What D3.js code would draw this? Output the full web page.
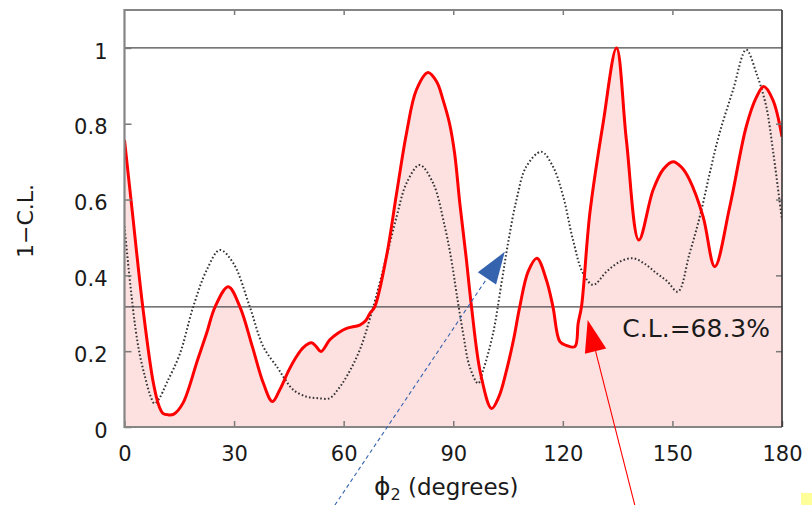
<!DOCTYPE html>
<html>
<head>
<meta charset="utf-8">
<script src="https://cdn.jsdelivr.net/npm/d3@7"></script>
<style>
  html, body { margin: 0; padding: 0; background: #fff; }
  svg { display: block; font-family: 'DejaVu Sans', sans-serif; }
</style>
</head>
<body>
<svg></svg>
<script>
// phi_2 in degrees, 1-C.L. values
const phiRed = [0, 2, 5, 7.9, 9.5, 10.5, 12, 13.5, 16, 20, 22.5, 24.8, 28.4, 31.6, 35, 38, 40.5,
  42.6, 45, 47.1, 49, 51.2, 52.5, 53.8, 56.2, 58.5, 60.8, 64.4, 66, 67.2, 68.5, 71.7, 74.5, 77.2,
  79.9, 83.1, 85.5, 87.2, 89, 90.4, 91.8, 93.5, 95, 97.5, 100.5, 102.5, 104.6, 106.5, 108.2, 110.5,
  112.9, 115.5, 117.3, 119.2, 121, 123.3, 124.2, 125.1, 127.4, 131, 134.7, 137.4, 140.8, 144.7,
  147.5, 150.2, 152.5, 154.7, 158.4, 161.6, 165.7, 170.2, 173, 175, 177.5, 180];
const clRed = [0.757, 0.58, 0.317, 0.116, 0.054, 0.036, 0.032, 0.034, 0.063, 0.177, 0.248, 0.317,
  0.37, 0.317, 0.212, 0.116, 0.067, 0.1, 0.15, 0.186, 0.21, 0.222, 0.212, 0.199, 0.23, 0.248, 0.26,
  0.269, 0.28, 0.3, 0.317, 0.449, 0.617, 0.775, 0.889, 0.935, 0.91, 0.863, 0.8, 0.72, 0.59, 0.45,
  0.317, 0.14, 0.049, 0.08, 0.15, 0.23, 0.317, 0.41, 0.445, 0.388, 0.317, 0.225, 0.215, 0.212,
  0.274, 0.317, 0.564, 0.8, 1.0, 0.757, 0.493, 0.625, 0.68, 0.7, 0.685, 0.652, 0.555, 0.423, 0.581,
  0.792, 0.87, 0.898, 0.863, 0.766];

const phiDot = [0, 1, 2, 3, 4.2, 5.6, 7, 8.2, 9.5, 11.5, 15.2, 18.8, 22.5, 26.1, 29.8, 34.3, 38,
  42, 44, 46.2, 49.8, 53, 56.2, 58.5, 60.8, 64.4, 67.6, 71.7, 74.5, 77.2, 80.8, 84.5, 87.7, 89.5,
  90.9, 92.7, 94.5, 96.8, 98.2, 100.9, 103.2, 105, 107.3, 110, 114.1, 117.3, 120.1, 122.8, 125.5,
  128.3, 132, 135.6, 139.2, 142.5, 145.6, 148.5, 151.5, 154.7, 157.5, 160.2, 162.9, 166.6, 170.2,
  173, 175.7, 177.5, 179.3, 180];
const clDot = [0.53, 0.43, 0.34, 0.26, 0.19, 0.133, 0.085, 0.062, 0.075, 0.115, 0.194, 0.317,
  0.414, 0.467, 0.432, 0.317, 0.212, 0.155, 0.125, 0.098, 0.08, 0.076, 0.076, 0.1, 0.133, 0.203,
  0.3, 0.449, 0.555, 0.643, 0.691, 0.643, 0.528, 0.44, 0.353, 0.247, 0.159, 0.115, 0.15, 0.247,
  0.379, 0.485, 0.599, 0.687, 0.726, 0.687, 0.608, 0.493, 0.406, 0.375, 0.41, 0.436, 0.445, 0.43,
  0.406, 0.385, 0.357, 0.458, 0.555, 0.669, 0.775, 0.889, 0.995, 0.933, 0.845, 0.731, 0.599, 0.546];

const xTicks = [0, 30, 60, 90, 120, 150, 180];
const yTicks = [0, 0.2, 0.4, 0.6, 0.8, 1];
const refLevels = [1, 0.317];
const clLabel = 'C.L.=68.3%';

// annotation arrows: [phi, value] of tail and tip
const arrows = [
  { from: [57.6, -0.206], to: [104.1, 0.462], color: '#3563ae', dashed: true },
  { from: [139.7, -0.206], to: [126.8, 0.282], color: '#ff0000', dashed: false }
];

const w = 812;
const h = 505;
const padL = 124.5, padR = 782, padT = 10, padB = 427;

const svg = d3.select('svg').attr('width', w).attr('height', h);

const xScale = d3.scaleLinear().domain([0, 180]).range([padL, padR]);
const yScale = d3.scaleLinear().domain([0, 1.1]).range([padB, padT]);

const red = phiRed.map((p, i) => [p, clRed[i]]);
const dot = phiDot.map((p, i) => [p, clDot[i]]);

svg.append('clipPath').attr('id', 'plot')
  .append('rect')
  .attr('x', padL).attr('y', padT)
  .attr('width', padR - padL).attr('height', padB - padT);

const g = svg.append('g').attr('clip-path', 'url(#plot)');

const curve = d3.curveCatmullRom.alpha(0.5);

// pink fill under the red curve
g.append('path')
  .datum(red)
  .attr('d', d3.area()
    .x((d) => xScale(d[0]))
    .y0(yScale(0))
    .y1((d) => yScale(d[1]))
    .curve(curve))
  .attr('fill', '#fde0e0');

// reference levels
g.selectAll('line.ref')
  .data(refLevels)
  .enter()
  .append('line')
  .attr('class', 'ref')
  .attr('x1', padL).attr('x2', padR)
  .attr('y1', (d) => yScale(d)).attr('y2', (d) => yScale(d))
  .attr('stroke', '#4a4a4a')
  .attr('stroke-width', 1.3);

// dotted curve
g.append('path')
  .datum(dot)
  .attr('d', d3.line().x((d) => xScale(d[0])).y((d) => yScale(d[1])).curve(curve))
  .attr('fill', 'none')
  .attr('stroke', '#333')
  .attr('stroke-width', 2)
  .attr('stroke-dasharray', '1.6,2.2');

// red curve
g.append('path')
  .datum(red)
  .attr('d', d3.line().x((d) => xScale(d[0])).y((d) => yScale(d[1])).curve(curve))
  .attr('fill', 'none')
  .attr('stroke', '#ff0000')
  .attr('stroke-width', 3)
  .attr('stroke-linejoin', 'round');

// inward ticks on all four sides
const tickColor = '#7a7a7a';
const xAxis = d3.axisBottom(xScale).tickValues(xTicks).tickSize(-6).tickPadding(19);
const yAxis = d3.axisLeft(yScale).tickValues(yTicks).tickSize(-7).tickPadding(17)
  .tickFormat((d) => (d === 0 || d === 1 ? String(d) : d.toFixed(1)));

svg.append('g').attr('class', 'x-axis').attr('transform', `translate(0,${padB})`).call(xAxis);
svg.append('g').attr('class', 'y-axis').attr('transform', `translate(${padL},0)`).call(yAxis);
svg.append('g').attr('transform', `translate(0,${padT})`)
  .call(d3.axisTop(xScale).tickValues(xTicks.slice(1, -1)).tickSize(-5).tickFormat(''));
svg.append('g').attr('transform', `translate(${padR},0)`)
  .call(d3.axisRight(yScale).tickValues(yTicks.slice(1, -1)).tickSize(-6).tickFormat(''));

svg.selectAll('.domain').remove();
svg.selectAll('.tick line').attr('stroke', tickColor).attr('stroke-width', 1.5);
svg.selectAll('.tick text')
  .attr('fill', '#1a1a1a')
  .attr('font-size', 21)
  .attr('font-family', "'DejaVu Sans', sans-serif");
svg.selectAll('.y-axis .tick text').attr('dy', '0.48em');

// frame
svg.append('path')
  .attr('d', `M${padR},${padT}H${padL}V${padB}H${padR}`)
  .attr('fill', 'none')
  .attr('stroke', '#858585')
  .attr('stroke-width', 2.2);
svg.append('line')
  .attr('x1', padR).attr('x2', padR).attr('y1', padT).attr('y2', padB)
  .attr('stroke', '#333')
  .attr('stroke-width', 1.6);

// C.L. label
svg.append('text')
  .attr('x', xScale(136.3))
  .attr('y', yScale(0.317) + 30)
  .attr('font-size', 25)
  .attr('fill', '#1a1a1a')
  .text(clLabel);

// axis titles
const xTitle = svg.append('text')
  .attr('x', 374)
  .attr('y', 495)
  .attr('font-size', 23)
  .attr('fill', '#1a1a1a');
xTitle.append('tspan').attr('font-size', 25).text('\u03d5');
xTitle.append('tspan').attr('font-size', 16).attr('dy', 5).text('2');
xTitle.append('tspan').attr('dy', -5).text(' (degrees)');

svg.append('text')
  .attr('transform', 'translate(33,221) rotate(-90)')
  .attr('text-anchor', 'middle')
  .attr('font-size', 22)
  .attr('fill', '#1a1a1a')
  .text('1\u2212C.L.');

// arrows
arrows.forEach((a) => {
  const x0 = xScale(a.from[0]), y0 = yScale(a.from[1]);
  const x1 = xScale(a.to[0]), y1 = yScale(a.to[1]);
  const len = Math.hypot(x1 - x0, y1 - y0);
  const ux = (x1 - x0) / len, uy = (y1 - y0) / len;
  const headLen = 32, halfW = 11;
  const bx = x1 - ux * headLen, by = y1 - uy * headLen;
  svg.append('line')
    .attr('x1', x0).attr('y1', y0).attr('x2', bx).attr('y2', by)
    .attr('stroke', a.color)
    .attr('stroke-width', 1.1)
    .attr('stroke-dasharray', a.dashed ? '4,3' : null);
  svg.append('path')
    .attr('d', `M${x1},${y1}L${bx - uy * halfW},${by + ux * halfW}L${bx + uy * halfW},${by - ux * halfW}Z`)
    .attr('fill', a.color);
});

// small yellow square in the corner
svg.append('rect')
  .attr('x', 801).attr('y', 493).attr('width', 11).attr('height', 12)
  .attr('fill', '#ffff99');
</script>
</body>
</html>
